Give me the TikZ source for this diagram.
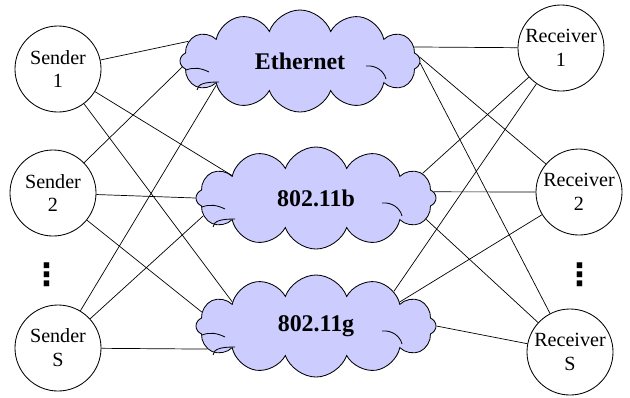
\documentclass[tikz,border=0pt]{standalone}
\usepackage{fontspec}
\setmainfont{Liberation Serif}
\newfontfamily\symfont{DejaVu Sans}
\usepackage{tikz}
\usetikzlibrary{shapes.symbols,calc}
\definecolor{netclr}{RGB}{204,204,255}
\tikzset{
    host/.style={circle,draw,fill=white,line width=0.6pt,minimum size=2.15cm,inner sep=0pt,align=center,font=\fontsize{14.3}{17}\selectfont},
    net/.style={cloud,cloud puffs=12,cloud puff arc=140,cloud ignores aspect,draw,fill=netclr,line width=0.6pt,minimum width=6cm,minimum height=2.55cm,inner sep=1pt,font=\fontsize{17}{20}\selectfont\bfseries},
    link/.style={line width=0.5pt},
    curl/.style={line width=0.6pt},
    dots/.style={inner sep=0pt,font=\symfont\bfseries\fontsize{22}{24}\selectfont},
}
% inner strokes of a cloud, in px round its centre
\newcommand{\netcurls}[1]{%
  \begin{scope}[shift={(#1)}]
    \draw[curl] (-114,9) .. controls (-106,6) and (-99,7) .. (-91,11);
    \draw[curl] (-103,29) .. controls (-102,23) and (-96,21) .. (-81,21);
    \draw[curl] (66,5) .. controls (76,4) and (84,10) .. (86,18);
  \end{scope}}

\begin{document}
\begin{tikzpicture}[x=0.025cm,y=-0.025cm]
\useasboundingbox (0,0) rectangle (630,397);
% networks
\node[net] (eth) at (300,61)  {Ethernet};
\node[net] (wb)  at (316,198) {802.11b};
\node[net] (wg)  at (316,326) {802.11g};
\netcurls{eth}
\netcurls{wb}
\netcurls{wg}

% senders and receivers
\node[host] (s1) at (58,69)   {Sender\\1};
\node[host] (s2) at (53,193)  {Sender\\2};
\node[host] (ss) at (58,348)  {Sender\\S};
\node[dots] (sd) at (47,275)  {⋮};
\node[host] (r1) at (561,48)  {Receiver\\1};
\node[host] (r2) at (579,192) {Receiver\\2};
\node[host] (rs) at (570,352) {Receiver\\S};
\node[dots] (rd) at (580,275) {⋮};

% every host to every network
\draw[link] (s1) -- (eth.170);
\draw[link] (s1) -- (wb.165);
\draw[link] (s1) -- (wg.164);
\draw[link] (s2) -- (eth.183);
\draw[link] (s2) -- (wb.180);
\draw[link] (s2) -- (wg.173);
\draw[link] (ss) -- (eth.196);
\draw[link] (ss) -- (wb.189);
\draw[link] (ss) -- (wg.192);
\draw[link] (r1) -- (eth.7);
\draw[link] (r1) -- (wb.13);
\draw[link] (r1) -- (wg.24);
\draw[link] (r2) -- (eth.2);
\draw[link] (r2) -- (wb.3);
\draw[link] (r2) -- (wg.16);
\draw[link] (rs) -- (eth.-1);
\draw[link] (rs) -- (wb.-11);
\draw[link] (rs) -- (wg.0);
\end{tikzpicture}
\end{document}
